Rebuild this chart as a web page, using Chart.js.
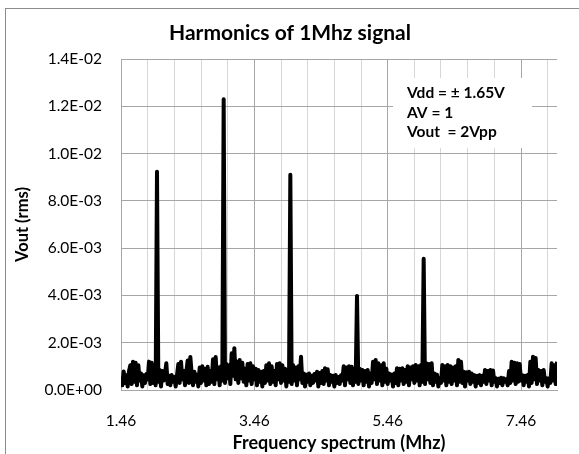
<!DOCTYPE html>
<html>
<head>
<meta charset="utf-8">
<script src="https://cdn.jsdelivr.net/npm/chart.js@4/dist/chart.umd.min.js"></script>
<style>
  html, body { margin: 0; padding: 0; background: #fff; }
  .frame { position: relative; width: 579px; height: 454px; overflow: hidden; }
  .frame::before { content: ''; position: absolute; left: 5px; top: 8px; right: -4px; bottom: -4px; border: 1px solid #8c8c8c; }
  canvas { position: absolute; left: 0; top: 0; }
</style>
</head>
<body>
<div class="frame"><canvas id="harmonics" width="579" height="454"></canvas></div>
<script>
// spectrum samples, one every 0.02 MHz starting at 1.46 MHz (values in 1E-03 V rms)
const freqStart = 1.46;
const freqStep = 0.02;
const voutMilli = [
  0.55, 0.20, 0.78, 0.30, 0.62, 0.15, 0.80, 1.05, 0.25, 1.20,
  0.35, 1.15, 0.20, 1.05, 0.40, 0.70, 0.15, 0.62, 0.30, 0.68,
  0.45, 1.20, 0.25, 1.15, 0.30, 0.90, 0.20, 9.23, 0.35, 0.85,
  0.15, 0.80, 0.40, 0.70, 1.13, 0.25, 0.60, 0.20, 0.63, 0.35,
  0.55, 0.15, 0.62, 1.10, 0.30, 1.20, 0.45, 0.80, 0.20, 0.75,
  1.25, 0.30, 1.40, 0.70, 0.20, 0.77, 0.35, 0.65, 0.15, 0.95,
  0.30, 1.00, 0.40, 0.90, 0.20, 0.98, 0.25, 0.80, 0.35, 1.30,
  0.25, 1.40, 0.45, 0.95, 0.20, 1.00, 0.40, 12.30, 0.30, 1.10,
  0.50, 1.05, 0.25, 1.55, 0.60, 1.77, 0.45, 1.20, 0.30, 1.27,
  0.50, 1.15, 0.35, 0.90, 0.20, 1.10, 0.40, 1.13, 0.25, 1.00,
  0.45, 0.90, 0.20, 0.85, 0.35, 0.77, 0.15, 0.80, 0.30, 1.05,
  0.40, 1.13, 0.25, 1.00, 0.35, 0.80, 0.20, 1.10, 0.45, 1.13,
  0.30, 1.05, 0.40, 0.90, 0.15, 0.85, 0.35, 9.10, 0.25, 1.06,
  0.40, 0.95, 0.20, 1.00, 0.45, 1.41, 0.30, 0.70, 0.15, 0.65,
  0.35, 0.70, 0.20, 0.60, 0.30, 0.68, 0.40, 0.77, 0.15, 0.72,
  0.30, 0.80, 0.25, 0.92, 0.40, 0.88, 0.20, 0.63, 0.35, 0.60,
  0.15, 0.63, 0.30, 0.55, 0.25, 0.62, 0.40, 1.00, 0.20, 0.95,
  0.45, 1.00, 0.30, 0.98, 0.20, 0.90, 0.35, 3.98, 0.25, 0.90,
  0.40, 0.85, 0.20, 0.80, 0.35, 0.85, 0.15, 0.70, 0.30, 1.20,
  0.45, 1.27, 0.25, 1.13, 0.40, 1.05, 0.20, 1.13, 0.35, 0.90,
  0.25, 0.70, 0.40, 0.65, 0.15, 0.70, 0.30, 0.92, 0.20, 0.90,
  0.40, 0.92, 0.25, 0.85, 0.35, 1.00, 0.20, 0.95, 0.45, 1.00,
  0.30, 1.06, 0.40, 1.00, 0.20, 1.06, 0.35, 5.55, 0.25, 1.13,
  0.45, 1.10, 0.30, 1.13, 0.20, 0.70, 0.35, 0.65, 0.15, 0.50,
  0.30, 1.06, 0.40, 1.00, 0.20, 1.06, 0.35, 1.00, 0.25, 0.95,
  0.40, 1.00, 0.20, 1.27, 0.35, 1.20, 0.30, 0.77, 0.15, 0.75,
  0.40, 0.77, 0.25, 0.70, 0.35, 0.63, 0.15, 0.60, 0.30, 0.63,
  0.20, 0.60, 0.35, 0.85, 0.25, 0.80, 0.40, 0.85, 0.20, 0.82,
  0.35, 0.50, 0.15, 0.48, 0.30, 0.52, 0.20, 0.50, 0.35, 0.45,
  0.20, 0.80, 0.30, 1.20, 0.40, 1.15, 0.25, 1.13, 0.35, 1.10,
  0.40, 0.63, 0.20, 0.60, 0.35, 0.63, 0.15, 1.20, 0.30, 1.41,
  0.45, 1.35, 0.25, 0.85, 0.40, 0.80, 0.20, 0.85, 0.35, 0.50,
  0.15, 0.50, 0.30, 1.13, 0.40, 1.05, 0.25, 1.20
];

const xTicks = [1.46, 1.86, 2.26, 2.66, 3.06, 3.46, 3.86, 4.26, 4.66, 5.06,
                5.46, 5.86, 6.26, 6.66, 7.06, 7.46, 7.86];
const xLabels = ['1.46', '3.46', '5.46', '7.46'];
const yTicks = [0, 0.002, 0.004, 0.006, 0.008, 0.010, 0.012, 0.014];
const noteLines = ['Vdd = \u00b1 1.65V', 'AV = 1', 'Vout  = 2Vpp'];

const FONT = 'Lato, "Open Sans", sans-serif';

function sciLabel(v) {
  const [m, e] = Number(v).toExponential(1).split('e');
  return `${m}E${e[0]}${e.slice(1).padStart(2, '0')}`;
}

const titlePlugin = {
  id: 'chartTitle',
  afterDraw(chart) {
    const c = chart.ctx;
    c.save();
    c.font = `bold 21px ${FONT}`;
    c.fillStyle = '#000';
    c.textAlign = 'center';
    c.textBaseline = 'middle';
    c.fillText('Harmonics of 1Mhz signal', 290, 33);
    c.restore();
  }
};

const notePlugin = {
  id: 'noteBox',
  beforeDatasetsDraw(chart) {
    const c = chart.ctx;
    c.save();
    c.fillStyle = '#fff';
    c.fillRect(393, 78, 139, 70);
    c.font = `bold 15.5px ${FONT}`;
    c.fillStyle = '#000';
    c.textBaseline = 'middle';
    noteLines.forEach((t, i) => c.fillText(t, 407, 93 + i * 19.5));
    c.restore();
  }
};

const points = voutMilli.map((v, i) => ({ x: +(freqStart + i * freqStep).toFixed(2), y: v / 1000 }));

new Chart(document.getElementById('harmonics').getContext('2d'), {
  type: 'line',
  data: {
    datasets: [{
      data: points,
      borderColor: '#000',
      borderWidth: 4,
      borderJoinStyle: 'round',
      pointRadius: 0,
      tension: 0,
      clip: 0,
    }]
  },
  options: {
    responsive: false,
    animation: false,
    layout: { padding: { top: 59, right: 22, left: 0, bottom: 0 } },
    plugins: { legend: { display: false }, tooltip: { enabled: false } },
    scales: {
      x: {
        type: 'linear',
        min: 1.46,
        max: 8.0,
        afterBuildTicks: s => { s.ticks = xTicks.map(v => ({ value: v })); },
        afterFit: s => { s.height = 64; },
        ticks: {
          autoSkip: false,
          maxRotation: 0,
          padding: 22,
          color: '#000',
          font: { family: FONT, size: 15.5 },
          callback: v => xLabels.includes(v.toFixed(2)) ? v.toFixed(2) : ''
        },
        grid: {
          drawTicks: false,
          color: ctx => (ctx.tick && ['3.46', '5.46', '7.46'].includes(ctx.tick.value.toFixed(2))) ? '#a6a6a6' : '#d6d6d6'
        },
        border: { display: true, color: '#a6a6a6' },
        title: {
          display: true,
          text: 'Frequency spectrum (Mhz)',
          color: '#000',
          font: { family: FONT, size: 18, weight: 'bold' },
          padding: { top: 0, bottom: 0 }
        }
      },
      y: {
        min: 0,
        max: 0.014,
        afterBuildTicks: s => { s.ticks = yTicks.map(v => ({ value: v })); },
        afterFit: s => { s.width = 121; },
        ticks: {
          padding: 19,
          color: '#000',
          font: { family: FONT, size: 15.5 },
          callback: v => sciLabel(v)
        },
        grid: { drawTicks: false, color: '#a6a6a6' },
        border: { display: true, color: '#a6a6a6' },
        title: {
          display: true,
          text: 'Vout (rms)',
          color: '#000',
          font: { family: FONT, size: 16.5, weight: 'bold' },
          padding: { top: 13, bottom: 0 }
        }
      }
    }
  },
  plugins: [titlePlugin, notePlugin]
});
</script>
</body>
</html>
